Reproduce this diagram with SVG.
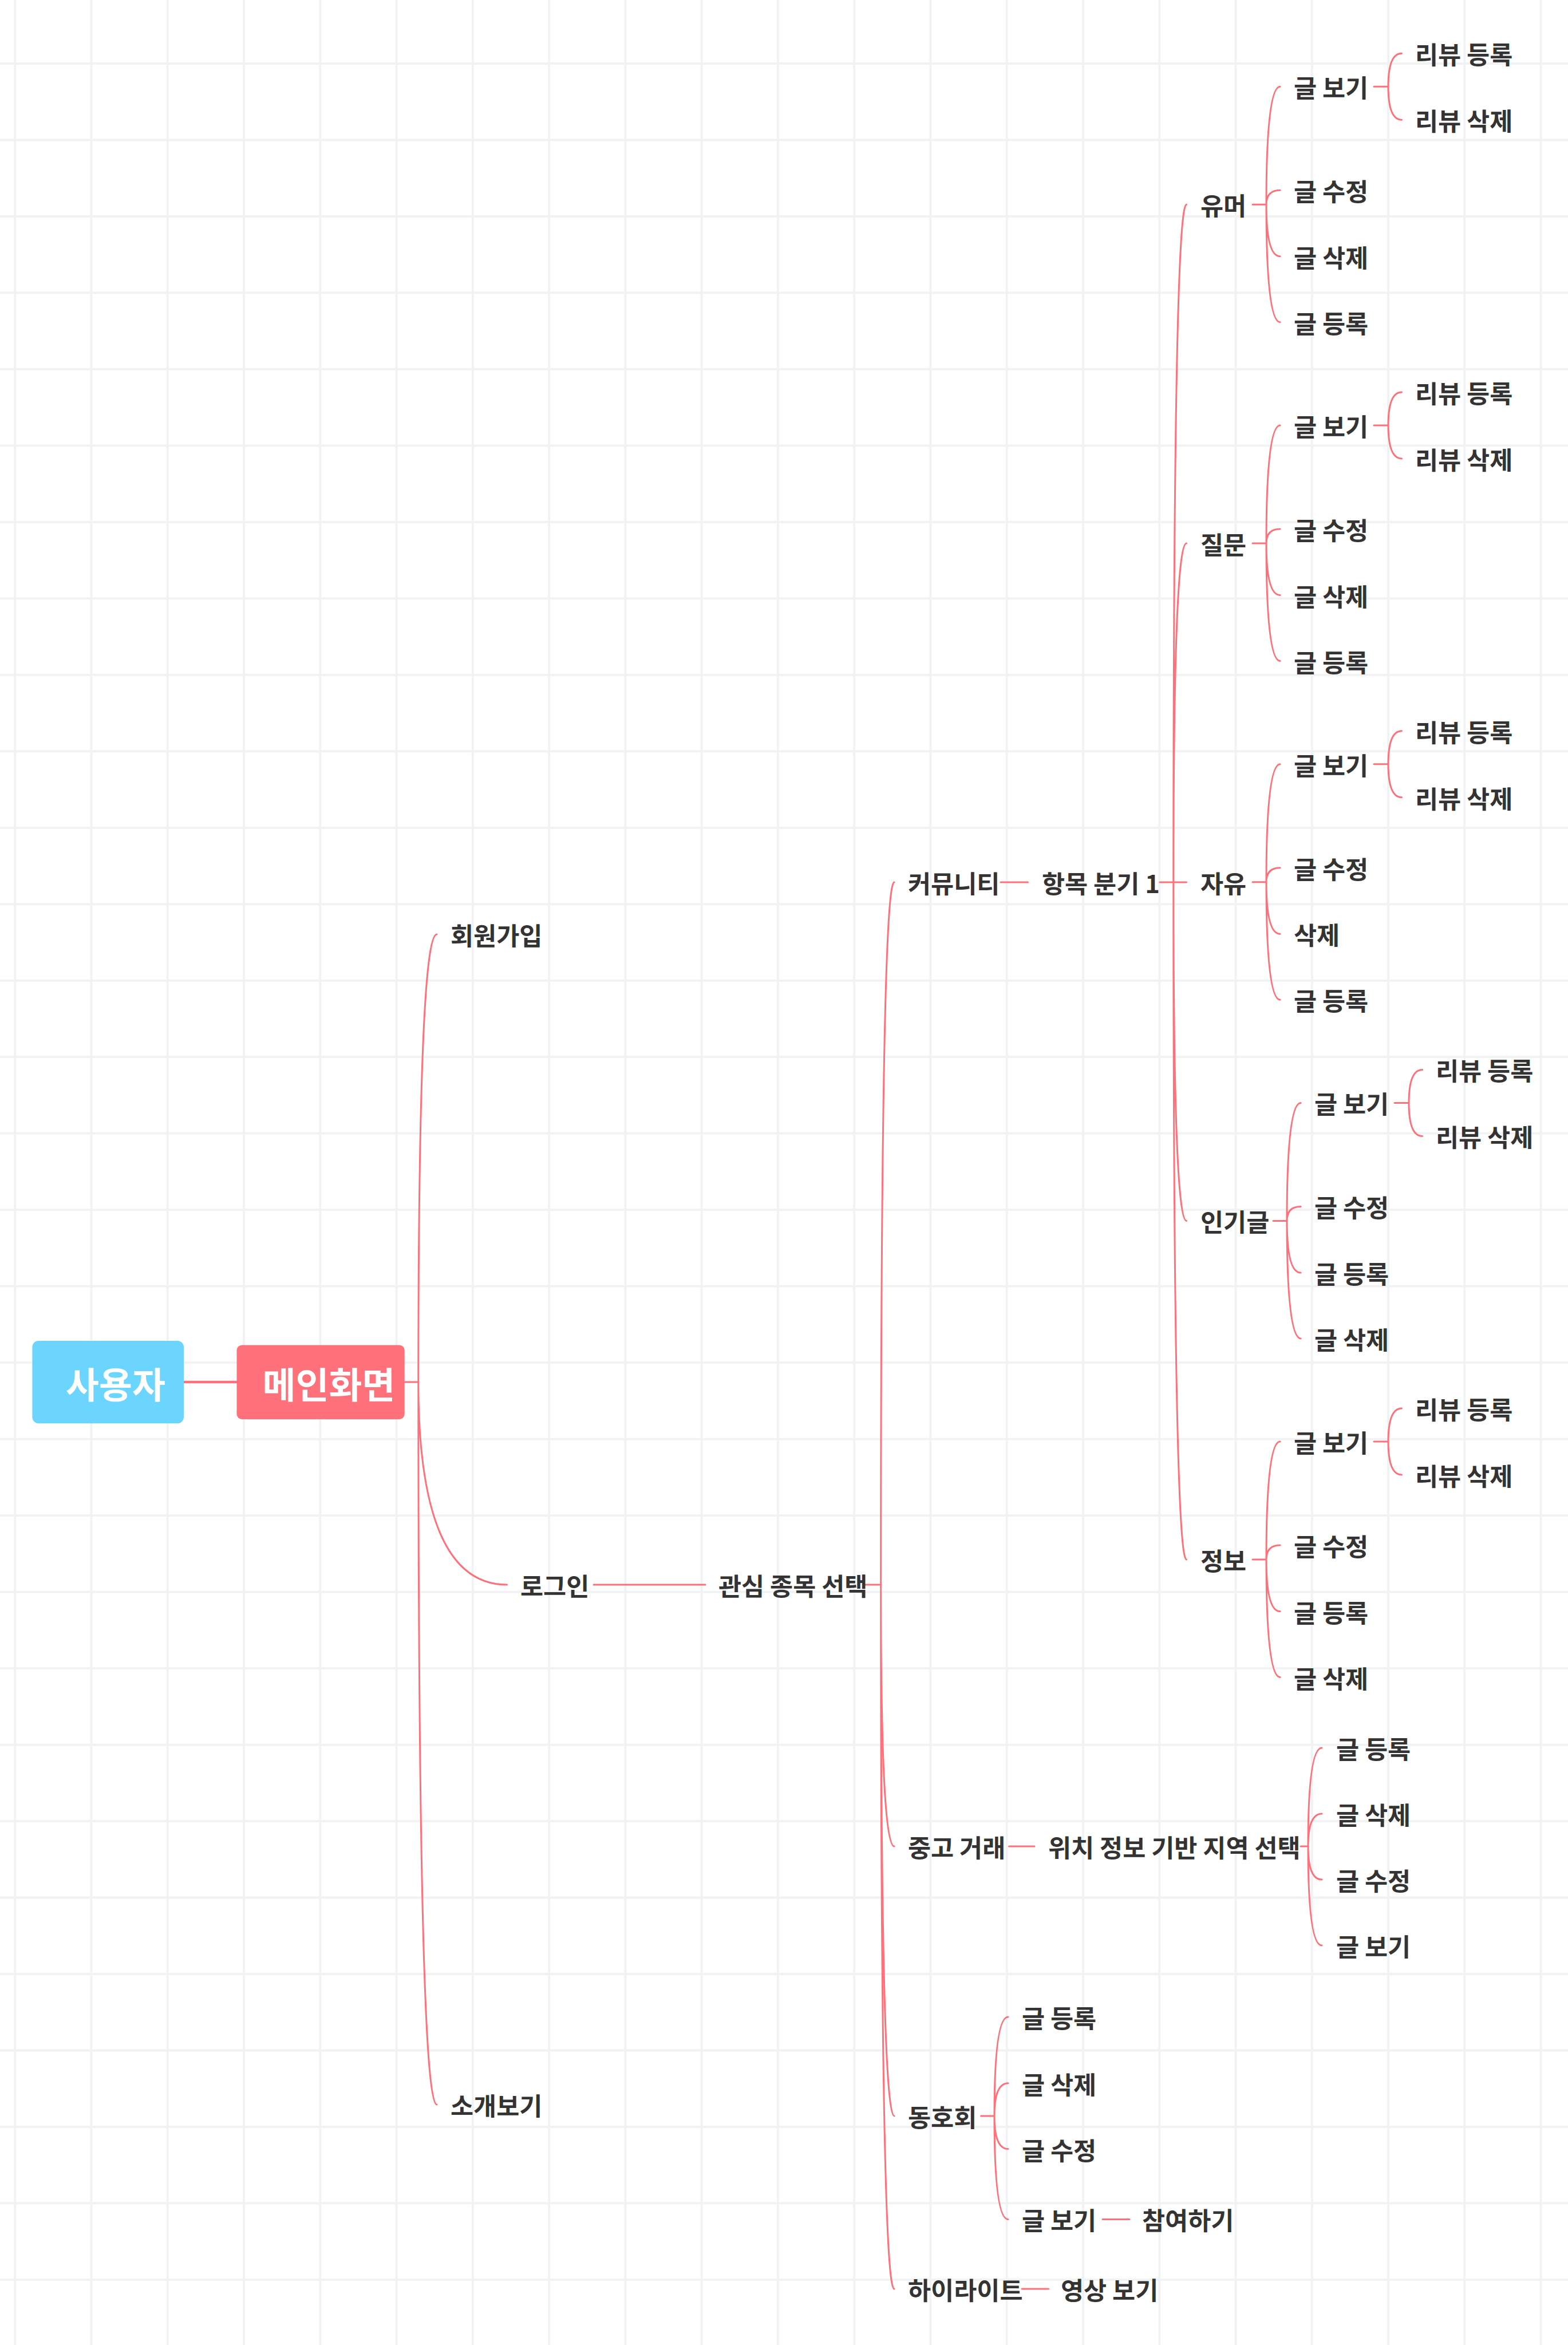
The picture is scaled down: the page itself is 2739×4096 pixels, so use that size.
<svg xmlns="http://www.w3.org/2000/svg" width="2739" height="4096" viewBox="0 0 2739 4096">
<style>
.t{font-family:"Noto Sans CJK KR","Noto Sans",sans-serif;font-weight:700;font-size:43.6px;fill:#333333;dominant-baseline:central}
.r{font-size:63px;fill:#ffffff;text-anchor:middle}
.c{fill:none;stroke:#FF717A;stroke-width:3;stroke-linecap:round}
.g{fill:none;stroke:#F1F2F4;stroke-width:3.8}
</style>
<rect width="2739" height="4096" fill="#ffffff"/>
<g id="grid">
<path class="g" d="M26.2 0V4096M159.5 0V4096M292.7 0V4096M426 0V4096M559.3 0V4096M692.6 0V4096M825.8 0V4096M959.1 0V4096M1092.4 0V4096M1225.6 0V4096M1358.9 0V4096M1492.2 0V4096M1625.4 0V4096M1758.7 0V4096M1892 0V4096M2025.3 0V4096M2158.5 0V4096M2291.8 0V4096M2425.1 0V4096M2558.3 0V4096M2691.6 0V4096"/>
<path class="g" d="M0 111H2739M0 244.5H2739M0 378H2739M0 511.4H2739M0 644.9H2739M0 778.4H2739M0 911.9H2739M0 1045.4H2739M0 1178.8H2739M0 1312.3H2739M0 1445.8H2739M0 1579.3H2739M0 1712.8H2739M0 1846.2H2739M0 1979.7H2739M0 2113.2H2739M0 2246.7H2739M0 2380.2H2739M0 2513.6H2739M0 2647.1H2739M0 2780.6H2739M0 2914.1H2739M0 3047.6H2739M0 3181H2739M0 3314.5H2739M0 3448H2739M0 3581.5H2739M0 3715H2739M0 3848.4H2739M0 3981.9H2739"/>
</g>
<g id="connectors">
<path class="c" style="stroke-width:4.4" d="M321 2414H413.5"/>
<path class="c" d="M706.7 2414H730.8"/>
<path class="c" d="M730.8 2414Q730.8 1632 763 1632M730.8 2414Q730.8 2768 885.5 2768M730.8 2414Q730.8 3676 763 3676"/>
<path class="c" d="M1037 2768H1232M1512 2768H1538.7"/>
<path class="c" d="M1538.7 2768Q1538.7 1541 1562 1541M1538.7 2768Q1538.7 3225 1562 3225M1538.7 2768Q1538.7 3696 1562 3696M1538.7 2768Q1538.7 3998 1562 3998"/>
<path class="c" d="M1748 1541H1795.5M2025.8 1541H2072.5"/>
<path class="c" d="M2049.8 1541Q2049.8 357.3 2072.5 357.3M2049.8 1541Q2049.8 949 2072.5 949M2049.8 1541Q2049.8 2132.4 2072.5 2132.4M2049.8 1541Q2049.8 2724.1 2072.5 2724.1"/>
<path class="c" d="M2188 357.3H2212M2212 357.3Q2212 151.3 2236 151.3M2212 357.3Q2212 332.3 2236 332.3M2212 357.3Q2212 447.8 2236 447.8M2212 357.3Q2212 562.8 2236 562.8M2400 151.3H2425M2425 151.3Q2425 93.3 2448.5 93.3M2425 151.3Q2425 209.3 2448.5 209.3"/>
<path class="c" d="M2188 949H2212M2212 949Q2212 743 2236 743M2212 949Q2212 924 2236 924M2212 949Q2212 1039.5 2236 1039.5M2212 949Q2212 1154.5 2236 1154.5M2400 743H2425M2425 743Q2425 685 2448.5 685M2425 743Q2425 801 2448.5 801"/>
<path class="c" d="M2188 1540.7H2212M2212 1540.7Q2212 1334.7 2236 1334.7M2212 1540.7Q2212 1515.7 2236 1515.7M2212 1540.7Q2212 1631.2 2236 1631.2M2212 1540.7Q2212 1746.2 2236 1746.2M2400 1334.7H2425M2425 1334.7Q2425 1276.7 2448.5 1276.7M2425 1334.7Q2425 1392.7 2448.5 1392.7"/>
<path class="c" d="M2224 2132.4H2248M2248 2132.4Q2248 1926.4 2272 1926.4M2248 2132.4Q2248 2107.4 2272 2107.4M2248 2132.4Q2248 2222.9 2272 2222.9M2248 2132.4Q2248 2337.9 2272 2337.9M2436 1926.4H2461M2461 1926.4Q2461 1868.4 2484.5 1868.4M2461 1926.4Q2461 1984.4 2484.5 1984.4"/>
<path class="c" d="M2188 2724.1H2212M2212 2724.1Q2212 2518.1 2236 2518.1M2212 2724.1Q2212 2699.1 2236 2699.1M2212 2724.1Q2212 2814.6 2236 2814.6M2212 2724.1Q2212 2929.6 2236 2929.6M2400 2518.1H2425M2425 2518.1Q2425 2460.1 2448.5 2460.1M2425 2518.1Q2425 2576.1 2448.5 2576.1"/>
<path class="c" d="M1762.5 3225H1807M2272 3225H2285M2285 3225Q2285 3053 2309 3053M2285 3225Q2285 3168 2309 3168M2285 3225Q2285 3283 2309 3283M2285 3225Q2285 3398 2309 3398"/>
<path class="c" d="M1713.6 3696H1737M1737 3696Q1737 3523 1761 3523M1737 3696Q1737 3638.8 1761 3638.8M1737 3696Q1737 3753.6 1761 3753.6M1737 3696Q1737 3876.4 1761 3876.4M1926 3876.4H1973"/>
<path class="c" d="M1785 3998H1831.5"/>
</g>
<g id="n-user"><rect x="56.4" y="2342" width="264.6" height="144.3" rx="11" fill="#6BD5FE"/><text class="t r" x="202" y="2414">사용자</text></g>
<g id="n-main"><rect x="413.5" y="2349.5" width="293.2" height="129.5" rx="9" fill="#FF717A"/><text class="t r" x="574.4" y="2414">메인화면</text></g>
<g id="n-signup"><text class="t" x="787" y="1632">회원가입</text></g>
<g id="n-login"><text class="t" x="909" y="2768">로그인</text></g>
<g id="n-intro"><text class="t" x="787" y="3676">소개보기</text></g>
<g id="n-interest"><text class="t" x="1255" y="2768">관심 종목 선택</text></g>
<g id="n-community"><text class="t" x="1586" y="1541">커뮤니티</text></g>
<g id="n-branch"><text class="t" x="1820" y="1541">항목 분기 1</text></g>
<g id="n-humor"><text class="t" x="2097" y="357.3">유머</text></g>
<g id="n-humor-view"><text class="t" x="2260" y="151.3">글 보기</text></g>
<g id="n-humor-rv-add"><text class="t" x="2472" y="93.3">리뷰 등록</text></g>
<g id="n-humor-rv-del"><text class="t" x="2472" y="209.3">리뷰 삭제</text></g>
<g id="n-humor-edit"><text class="t" x="2260" y="332.3">글 수정</text></g>
<g id="n-humor-del"><text class="t" x="2260" y="447.8">글 삭제</text></g>
<g id="n-humor-add"><text class="t" x="2260" y="562.8">글 등록</text></g>
<g id="n-qna"><text class="t" x="2097" y="949">질문</text></g>
<g id="n-qna-view"><text class="t" x="2260" y="743">글 보기</text></g>
<g id="n-qna-rv-add"><text class="t" x="2472" y="685">리뷰 등록</text></g>
<g id="n-qna-rv-del"><text class="t" x="2472" y="801">리뷰 삭제</text></g>
<g id="n-qna-edit"><text class="t" x="2260" y="924">글 수정</text></g>
<g id="n-qna-del"><text class="t" x="2260" y="1039.5">글 삭제</text></g>
<g id="n-qna-add"><text class="t" x="2260" y="1154.5">글 등록</text></g>
<g id="n-free"><text class="t" x="2097" y="1540.7">자유</text></g>
<g id="n-free-view"><text class="t" x="2260" y="1334.7">글 보기</text></g>
<g id="n-free-rv-add"><text class="t" x="2472" y="1276.7">리뷰 등록</text></g>
<g id="n-free-rv-del"><text class="t" x="2472" y="1392.7">리뷰 삭제</text></g>
<g id="n-free-edit"><text class="t" x="2260" y="1515.7">글 수정</text></g>
<g id="n-free-del"><text class="t" x="2260" y="1631.2">삭제</text></g>
<g id="n-free-add"><text class="t" x="2260" y="1746.2">글 등록</text></g>
<g id="n-popular"><text class="t" x="2097" y="2132.4">인기글</text></g>
<g id="n-pop-view"><text class="t" x="2296" y="1926.4">글 보기</text></g>
<g id="n-pop-rv-add"><text class="t" x="2508" y="1868.4">리뷰 등록</text></g>
<g id="n-pop-rv-del"><text class="t" x="2508" y="1984.4">리뷰 삭제</text></g>
<g id="n-pop-edit"><text class="t" x="2296" y="2107.4">글 수정</text></g>
<g id="n-pop-add"><text class="t" x="2296" y="2222.9">글 등록</text></g>
<g id="n-pop-del"><text class="t" x="2296" y="2337.9">글 삭제</text></g>
<g id="n-info"><text class="t" x="2097" y="2724.1">정보</text></g>
<g id="n-info-view"><text class="t" x="2260" y="2518.1">글 보기</text></g>
<g id="n-info-rv-add"><text class="t" x="2472" y="2460.1">리뷰 등록</text></g>
<g id="n-info-rv-del"><text class="t" x="2472" y="2576.1">리뷰 삭제</text></g>
<g id="n-info-edit"><text class="t" x="2260" y="2699.1">글 수정</text></g>
<g id="n-info-add"><text class="t" x="2260" y="2814.6">글 등록</text></g>
<g id="n-info-del"><text class="t" x="2260" y="2929.6">글 삭제</text></g>
<g id="n-market"><text class="t" x="1586" y="3225">중고 거래</text></g>
<g id="n-location"><text class="t" x="1831" y="3225">위치 정보 기반 지역 선택</text></g>
<g id="n-mk-add"><text class="t" x="2334" y="3053">글 등록</text></g>
<g id="n-mk-del"><text class="t" x="2334" y="3168">글 삭제</text></g>
<g id="n-mk-edit"><text class="t" x="2334" y="3283">글 수정</text></g>
<g id="n-mk-view"><text class="t" x="2334" y="3398">글 보기</text></g>
<g id="n-club"><text class="t" x="1586" y="3696">동호회</text></g>
<g id="n-club-add"><text class="t" x="1785" y="3523">글 등록</text></g>
<g id="n-club-del"><text class="t" x="1785" y="3638.8">글 삭제</text></g>
<g id="n-club-edit"><text class="t" x="1785" y="3753.6">글 수정</text></g>
<g id="n-club-view"><text class="t" x="1785" y="3876.4">글 보기</text></g>
<g id="n-join"><text class="t" x="1995" y="3876.4">참여하기</text></g>
<g id="n-highlight"><text class="t" x="1586" y="3998">하이라이트</text></g>
<g id="n-video"><text class="t" x="1853" y="3998">영상 보기</text></g>
</svg>
